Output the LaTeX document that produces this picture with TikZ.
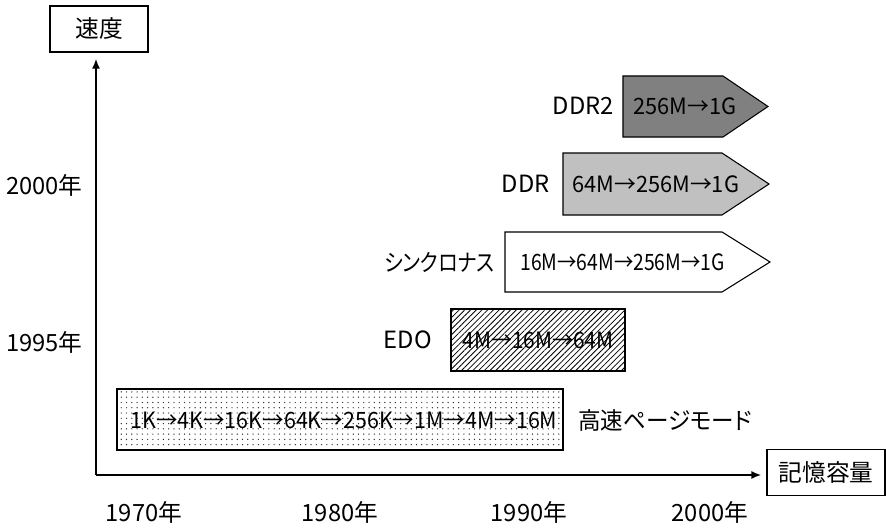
\documentclass[tikz,border=0pt]{standalone}
\usepackage{fontspec}
\setmainfont{Noto Sans CJK JP}[RawFeature=+palt]
\usepackage{tikz}
\usetikzlibrary{
arrows.meta,
positioning,
patterns,
patterns.meta
}
\definecolor{ddrtwofill}{HTML}{808080}
\definecolor{ddrfill}{HTML}{C0C0C0}

\tikzset{
  axisline/.style={line width=1.2pt, -{Latex[length=2mm,width=1.6mm]}},
  capbox/.style={draw, line width=0.6pt, font=\fontsize{13.5}{16}\selectfont,
    minimum height=0.92cm, inner sep=0pt},
  yearlbl/.style={font=\fontsize{13.5}{16}\selectfont, inner sep=0pt},
  barlbl/.style={font=\fontsize{13.5}{16}\selectfont, inner sep=0pt, anchor=east},
  bartxt/.style={font=\fontsize{12.8}{15}\selectfont, inner sep=0pt, anchor=west,
    xscale=#1},
  bartxt/.default=0.96,
  bar/.style={draw, line width=0.6pt}
}

\begin{document}
\begin{tikzpicture}[x=0.2mm, y=-0.2mm]
\useasboundingbox (0,0) rectangle (886,529);

%% Axis title boxes
\node[capbox, minimum width=1.96cm] (speed) at (99,29) {速度};
\node[capbox, minimum width=2.36cm] (capacity) at (826,472.5) {記憶容量};

%% Axes
\coordinate (origin) at (96,475);
\draw[axisline, shorten >=0.12cm] (origin) -- (origin |- speed.south);
\draw[axisline, shorten >=0.1cm] (origin) -- (capacity.west |- origin);

%% Year labels
\node[barlbl] (y2000) at (83,185) {2000年};
\node[barlbl] (y1995) at (83,342) {1995年};
\foreach \x/\yr in {144/1970, 340/1980, 529/1990, 710/2000}{
  \node[yearlbl] (x\yr) at (\x,512) {\yr 年};
}

%% Fast page mode
\draw[bar, pattern={Dots[distance=3pt, radius=0.4pt]}, pattern color=black!80]
  (117,389) rectangle (563,450);
\node[bartxt=0.955] (fpmtxt) at (130,420) {1K→4K→16K→64K→256K→1M→4M→16M};
\node[barlbl, anchor=west, xscale=0.95] (fpm) at (578,420) {高速ページモード};

%% EDO
\draw[bar, pattern={Lines[angle=45, distance=2.3pt, line width=0.45pt]}]
  (451,309) rectangle (625,371);
\node[bartxt=0.93, anchor=center] (edotxt) at (538,340) {4M→16M→64M};
\node[barlbl] (edo) at (432,340) {EDO};

%% Synchronous
\draw[bar, fill=white]
  (505,232) -- (722,232) -- (770,262) -- (722,292) -- (505,292) -- cycle;
\node[bartxt=0.86] (synctxt) at (520,262) {16M→64M→256M→1G};
\node[barlbl, xscale=0.84] (sync) at (495,262) {シンクロナス};

%% DDR
\draw[bar, fill=ddrfill]
  (563,153) -- (722,153) -- (769,184) -- (722,215) -- (563,215) -- cycle;
\node[bartxt=0.97] (ddrtxt) at (572,184) {64M→256M→1G};
\node[barlbl] (ddr) at (550,184) {DDR};

%% DDR2
\draw[bar, fill=ddrtwofill]
  (623,76) -- (723,76) -- (768,106.5) -- (723,137) -- (623,137) -- cycle;
\node[bartxt=0.97] (ddrtwotxt) at (633,106) {256M→1G};
\node[barlbl] (ddrtwo) at (614,106) {DDR2};

\end{tikzpicture}
\end{document}
